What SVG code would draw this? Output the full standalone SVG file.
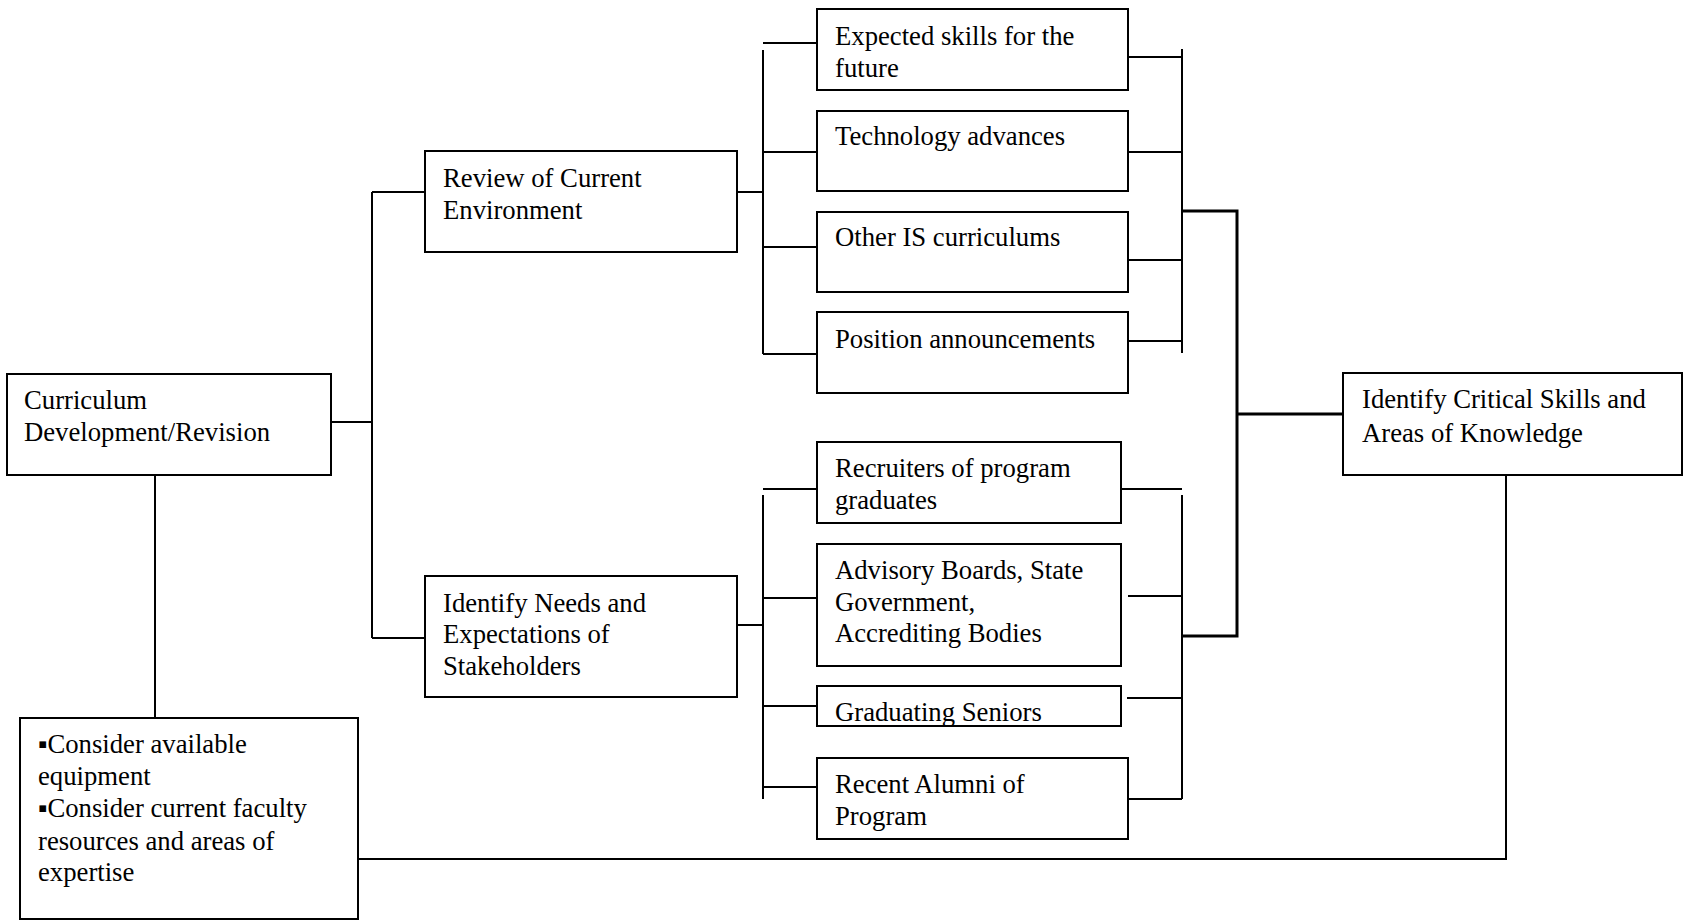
<svg xmlns="http://www.w3.org/2000/svg" width="1690" height="921" viewBox="0 0 1690 921">
<style>
.box{fill:#fff;stroke:#000;stroke-width:2}
.t{font-family:"Liberation Serif","Times New Roman",serif;font-size:26.7px;fill:#000}
.c{stroke:#000;stroke-width:2;fill:none}
.thick{stroke:#000;stroke-width:3;fill:none}
</style>
<rect width="1690" height="921" fill="#fff"/>
<g id="connectors">
<path class="c" d="M331 422H372M372 192V638M372 192H425M372 638H425"/>
<path class="c" d="M155 475V718"/>
<path class="c" d="M737 192H763M763 50V354M763 43H817M763 152H817M763 247H817M763 354H817"/>
<path class="c" d="M737 625H763M763 495V799M763 489H817M763 598H817M763 706H817M763 787H817"/>
<path class="c" d="M1128 57H1182M1182 49V353M1128 152H1182M1128 260H1182M1128 341H1182"/>
<path class="c" d="M1114 489H1182M1182 495V799M1128 596H1182M1127 698H1182M1128 799H1182"/>
<path class="thick" d="M1182 211H1237V636H1182M1237 414H1343"/>
<path class="c" d="M358 859H1506V475"/>
</g>
<g id="n-curriculum"><rect class="box" x="7" y="374" width="324" height="101"/><text class="t" x="24" y="409">Curriculum</text><text class="t" x="24" y="441">Development/Revision</text></g>
<g id="n-review"><rect class="box" x="425" y="151" width="312" height="101"/><text class="t" x="443" y="187">Review of Current</text><text class="t" x="443" y="219">Environment</text></g>
<g id="n-needs"><rect class="box" x="425" y="576" width="312" height="121"/><text class="t" x="443" y="612">Identify Needs and</text><text class="t" x="443" y="643">Expectations of</text><text class="t" x="443" y="675">Stakeholders</text></g>
<g id="n-expected"><rect class="box" x="817" y="9" width="311" height="81"/><text class="t" x="835" y="45">Expected skills for the</text><text class="t" x="835" y="77">future</text></g>
<g id="n-tech"><rect class="box" x="817" y="111" width="311" height="80"/><text class="t" x="835" y="145">Technology advances</text></g>
<g id="n-other"><rect class="box" x="817" y="212" width="311" height="80"/><text class="t" x="835" y="246">Other IS curriculums</text></g>
<g id="n-position"><rect class="box" x="817" y="312" width="311" height="81"/><text class="t" x="835" y="348">Position announcements</text></g>
<g id="n-recruiters"><rect class="box" x="817" y="442" width="304" height="81"/><text class="t" x="835" y="477">Recruiters of program</text><text class="t" x="835" y="509">graduates</text></g>
<g id="n-advisory"><rect class="box" x="817" y="544" width="304" height="122"/><text class="t" x="835" y="579">Advisory Boards, State</text><text class="t" x="835" y="611">Government,</text><text class="t" x="835" y="642">Accrediting Bodies</text></g>
<g id="n-seniors"><rect class="box" x="817" y="686" width="304" height="40"/><text class="t" x="835" y="721">Graduating Seniors</text></g>
<g id="n-alumni"><rect class="box" x="817" y="758" width="311" height="81"/><text class="t" x="835" y="793">Recent Alumni of</text><text class="t" x="835" y="825">Program</text></g>
<g id="n-critical"><rect class="box" x="1343" y="373" width="339" height="102"/><text class="t" x="1362" y="408">Identify Critical Skills and</text><text class="t" x="1362" y="442">Areas of Knowledge</text></g>
<g id="n-consider"><rect class="box" x="20" y="718" width="338" height="201"/><text class="t" x="38" y="753">▪Consider available</text><text class="t" x="38" y="785">equipment</text><text class="t" x="38" y="817">▪Consider current faculty</text><text class="t" x="38" y="850">resources and areas of</text><text class="t" x="38" y="881">expertise</text></g>
</svg>
